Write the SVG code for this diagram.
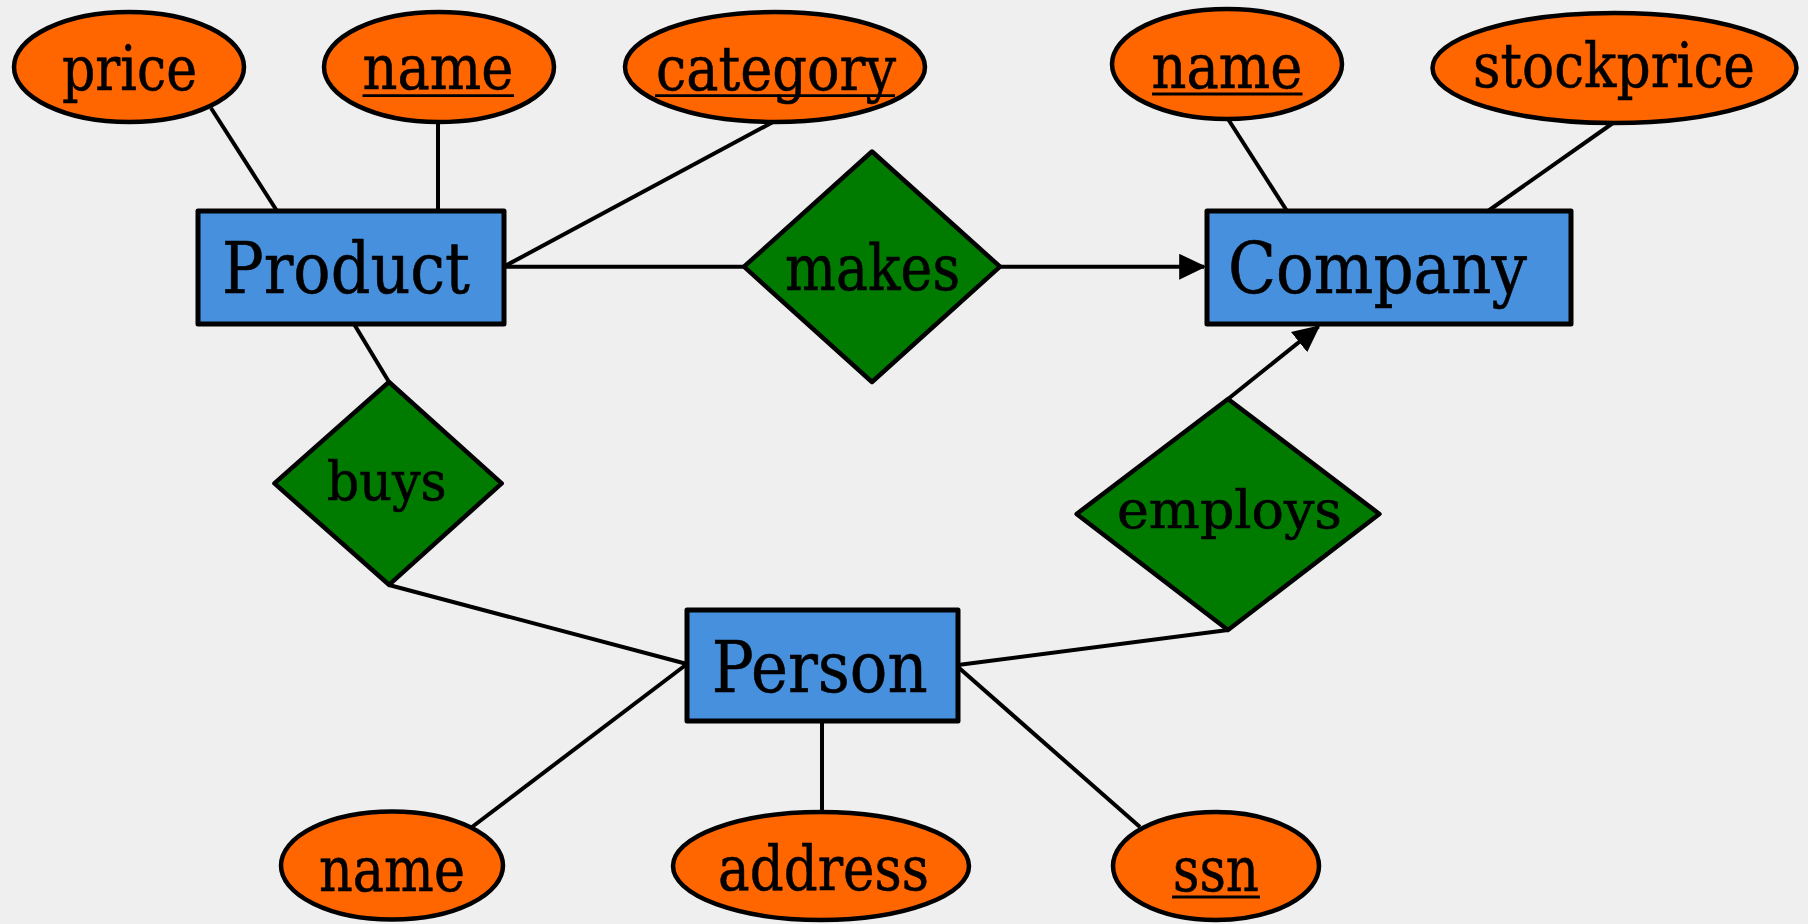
<svg xmlns="http://www.w3.org/2000/svg" width="1808" height="924" viewBox="0 0 1808 924">
<defs>
<style>
.ent{fill:#4790dd;stroke:#000;stroke-width:5;stroke-linejoin:round}
.att{fill:#ff6600;stroke:#000;stroke-width:4.5}
.rel{fill:#007b00;stroke:#000;stroke-width:4.5;stroke-linejoin:round}
.con{stroke:#000;stroke-width:4;fill:none}
.ul{stroke:#000;stroke-width:2.8}
text{font-family:"DejaVu Serif","Liberation Serif",serif;fill:#000;stroke:#000;stroke-width:0.6;text-anchor:middle}
.te{font-size:71px}
.ta{font-size:62px}
</style>
<marker id="arr" markerUnits="userSpaceOnUse" markerWidth="27" markerHeight="26" viewBox="0 0 25 24" refX="23" refY="12" orient="auto">
<path d="M0,0 L25,12 L0,24 z" fill="#000"/>
</marker>
</defs>
<rect width="1808" height="924" fill="#efefef"/>
<g id="connectors">
<line class="con" x1="211" y1="108" x2="277" y2="211"/>
<line class="con" x1="438" y1="122" x2="438" y2="211"/>
<line class="con" x1="773" y1="122" x2="505" y2="266"/>
<line class="con" x1="504" y1="266.7" x2="744" y2="266.7"/>
<line class="con" x1="1000" y1="266.7" x2="1204" y2="266.7" marker-end="url(#arr)"/>
<line class="con" x1="1228" y1="119" x2="1287" y2="211"/>
<line class="con" x1="1613" y1="123" x2="1488" y2="211"/>
<line class="con" x1="354" y1="324" x2="389" y2="382"/>
<line class="con" x1="389" y1="585" x2="687" y2="664"/>
<line class="con" x1="687" y1="664" x2="472" y2="827"/>
<line class="con" x1="822" y1="721" x2="822" y2="812"/>
<line class="con" x1="958" y1="667" x2="1140" y2="827"/>
<line class="con" x1="958" y1="665" x2="1228" y2="630"/>
<line class="con" x1="1228" y1="399" x2="1318.5" y2="326.5" marker-end="url(#arr)"/>
</g>
<g id="product">
<rect class="ent" x="198" y="211" width="306" height="113"/>
<text class="te" x="346" y="293" textLength="248" lengthAdjust="spacingAndGlyphs">Product</text>
</g>
<g id="company">
<rect class="ent" x="1207" y="211" width="364" height="113"/>
<text class="te" x="1377.5" y="293" textLength="299" lengthAdjust="spacingAndGlyphs">Company</text>
</g>
<g id="person">
<rect class="ent" x="687" y="610" width="271" height="111"/>
<text class="te" x="819.7" y="691.7" textLength="216" lengthAdjust="spacingAndGlyphs">Person</text>
</g>
<g id="makes">
<polygon class="rel" points="744,266.7 872,151.5 1000,266.7 872,382"/>
<text x="872.5" y="290" font-size="63" textLength="175" lengthAdjust="spacingAndGlyphs">makes</text>
</g>
<g id="buys">
<polygon class="rel" points="274.4,483.4 389,382 501.7,483.4 389,584.8"/>
<text x="386.7" y="500" font-size="54" textLength="120" lengthAdjust="spacingAndGlyphs">buys</text>
</g>
<g id="employs">
<polygon class="rel" points="1076.6,514 1228,399 1379.4,514 1228,630"/>
<text x="1229.5" y="528" font-size="52" textLength="225" lengthAdjust="spacingAndGlyphs">employs</text>
</g>
<g id="product-price">
<ellipse class="att" cx="129" cy="67" rx="115" ry="55"/>
<text class="ta" x="129.5" y="90" textLength="135" lengthAdjust="spacingAndGlyphs">price</text>
</g>
<g id="product-name">
<ellipse class="att" cx="439" cy="67" rx="115" ry="55"/>
<text class="ta" x="438" y="89" textLength="151" lengthAdjust="spacingAndGlyphs">name</text>
<line class="ul" x1="362.5" y1="95.7" x2="514" y2="95.7"/>
</g>
<g id="product-category">
<ellipse class="att" cx="775" cy="67" rx="150" ry="55"/>
<text class="ta" x="776" y="90" textLength="240" lengthAdjust="spacingAndGlyphs">category</text>
<line class="ul" x1="655" y1="95.7" x2="895" y2="95.7"/>
</g>
<g id="company-name">
<ellipse class="att" cx="1227" cy="64" rx="115" ry="55"/>
<text class="ta" x="1227" y="88" textLength="151" lengthAdjust="spacingAndGlyphs">name</text>
<line class="ul" x1="1152" y1="94" x2="1302.5" y2="94"/>
</g>
<g id="company-stockprice">
<ellipse class="att" cx="1614.5" cy="68" rx="182" ry="55"/>
<text class="ta" x="1614" y="87" textLength="282" lengthAdjust="spacingAndGlyphs">stockprice</text>
</g>
<g id="person-name">
<ellipse class="att" cx="392" cy="865.5" rx="111" ry="54"/>
<text class="ta" x="392" y="890.6" textLength="146" lengthAdjust="spacingAndGlyphs">name</text>
</g>
<g id="person-address">
<ellipse class="att" cx="821" cy="866" rx="148" ry="54"/>
<text class="ta" x="823.5" y="890" textLength="211" lengthAdjust="spacingAndGlyphs">address</text>
</g>
<g id="person-ssn">
<ellipse class="att" cx="1216" cy="866" rx="103" ry="54"/>
<text class="ta" x="1216" y="891" textLength="86" lengthAdjust="spacingAndGlyphs">ssn</text>
<line class="ul" x1="1172" y1="897" x2="1260" y2="897"/>
</g>
</svg>
